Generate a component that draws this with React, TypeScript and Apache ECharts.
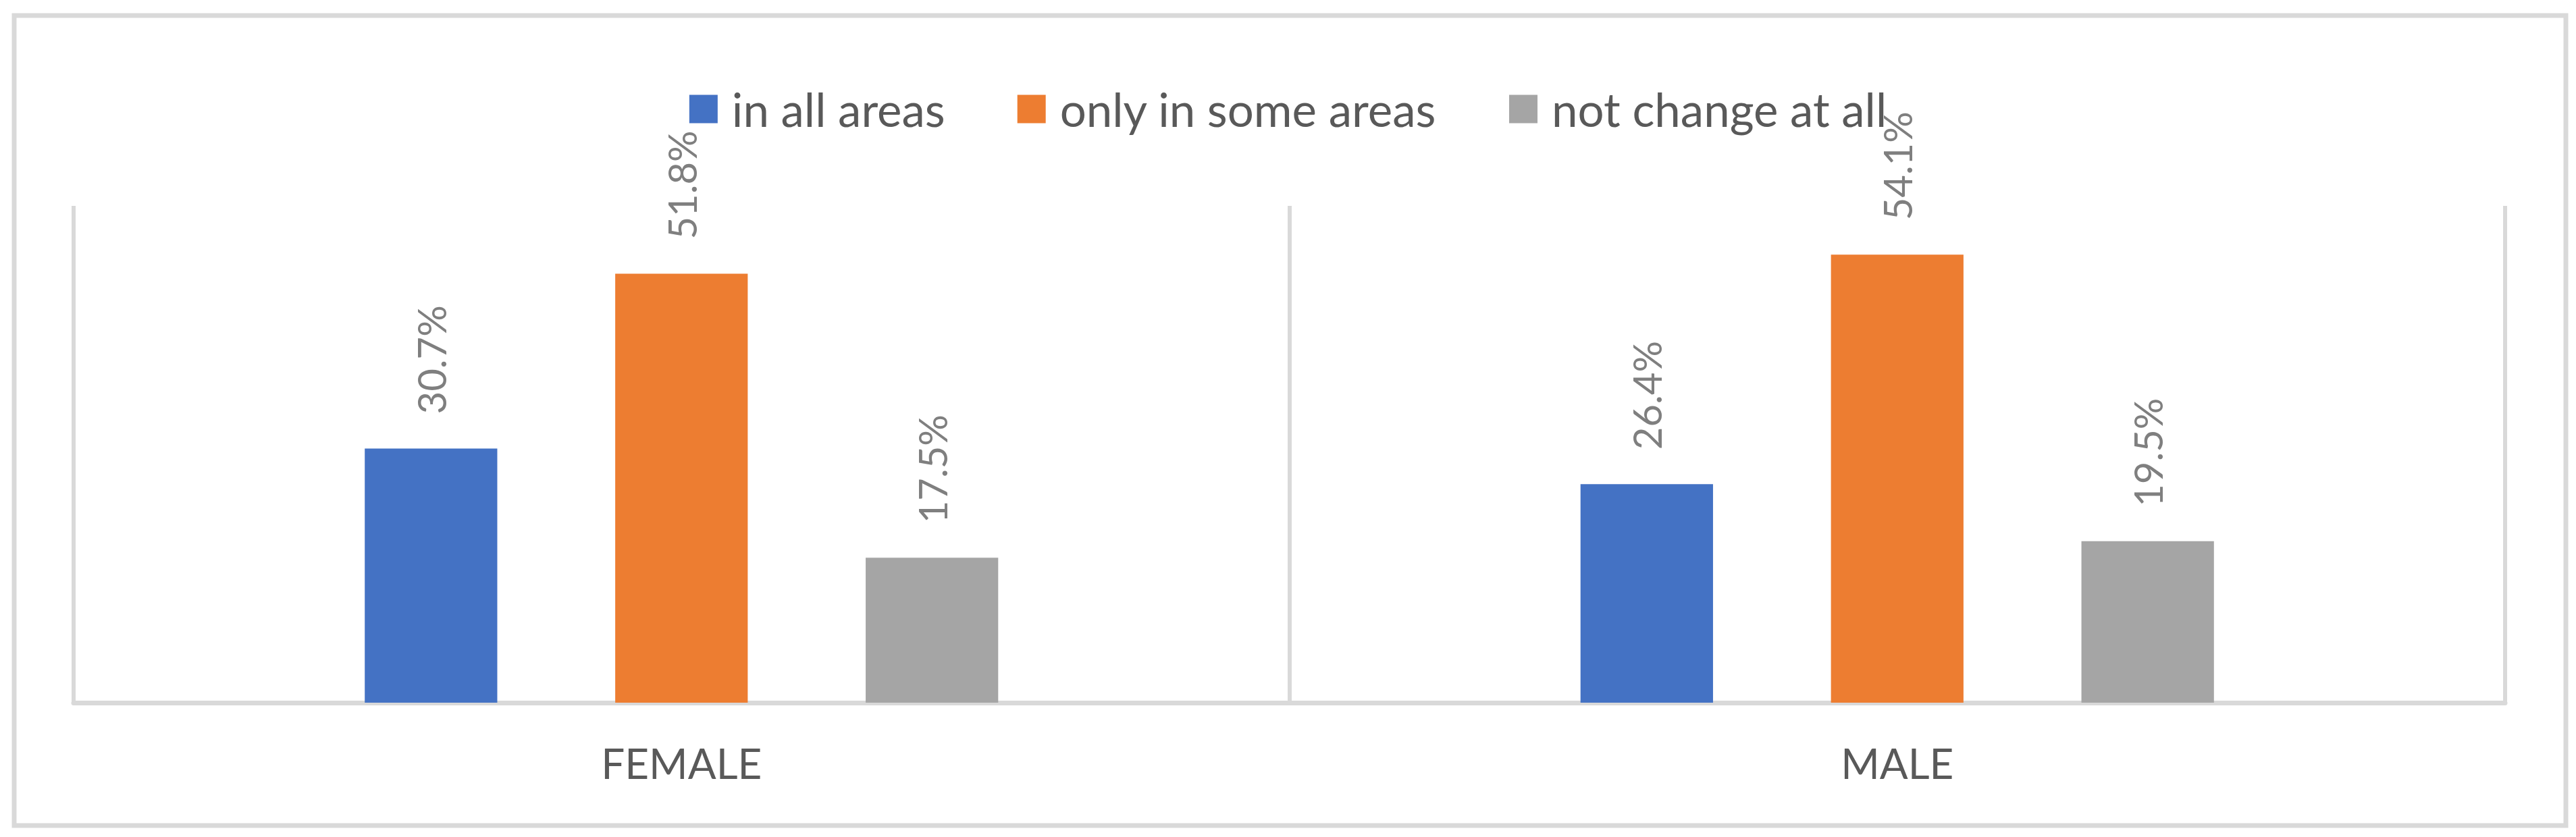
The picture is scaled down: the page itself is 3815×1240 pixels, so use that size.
import React, { useEffect, useRef } from "react";
import * as echarts from "echarts";

const categories = ["FEMALE", "MALE"];
const seriesNames = ["in all areas", "only in some areas", "not change at all"];
const inAllAreas = [30.7, 26.4];
const onlyInSomeAreas = [51.8, 54.1];
const notChangeAtAll = [17.5, 19.5];
const seriesColors = ["#4472C4", "#ED7D31", "#A5A5A5"];

const FONT = "Lato, 'Open Sans', sans-serif";

export default function App() {
  const ref = useRef<HTMLDivElement>(null);

  useEffect(() => {
    document.body.style.margin = "0";
    if (!ref.current) return;
    const chart = echarts.init(ref.current, null, { renderer: "svg" });
    const values = [inAllAreas, onlyInSomeAreas, notChangeAtAll];
    const option = {
      animation: false,
      backgroundColor: "#ffffff",
      textStyle: { fontFamily: FONT },
      graphic: [
        {
          type: "rect",
          shape: { x: 21, y: 23, width: 3779, height: 1200 },
          style: { fill: "none", stroke: "#D9D9D9", lineWidth: 7 },
          silent: true,
          z: -10,
        },
      ],
      legend: {
        top: 122,
        left: "center",
        itemWidth: 42,
        itemHeight: 42,
        itemGap: 107,
        icon: "rect",
        textStyle: {
          fontFamily: FONT,
          fontSize: 69,
          color: "#595959",
          lineHeight: 42,
          padding: [0, 0, 0, 16],
        },
        data: seriesNames,
      },
      grid: { left: 109, right: 105, top: 305, bottom: 199, containLabel: false },
      xAxis: {
        type: "category",
        data: categories,
        axisLine: { show: true, lineStyle: { color: "#D9D9D9", width: 7 } },
        axisTick: { show: false },
        splitLine: { show: true, lineStyle: { color: "#D9D9D9", width: 6 } },
        axisLabel: {
          fontFamily: FONT,
          fontSize: 62,
          color: "#595959",
          margin: 58,
          lineHeight: 62,
        },
      },
      yAxis: {
        type: "value",
        min: 0,
        max: 60,
        show: false,
        splitLine: { show: false },
      },
      series: seriesNames.map((name, i) => ({
        name,
        type: "bar",
        data: values[i],
        barWidth: "10.9%",
        barGap: "89%",
        itemStyle: { color: seriesColors[i] },
        label: {
          show: true,
          position: "top",
          rotate: 90,
          align: "left",
          verticalAlign: "middle",
          distance: 51,
          fontFamily: FONT,
          fontSize: 58,
          color: "#7F7F7F",
          formatter: (p: any) => `${Number(p.value).toFixed(1)}%`,
        },
      })),
    };
    chart.setOption(option as any);
    return () => chart.dispose();
  }, []);

  return <div ref={ref} style={{ width: 3815, height: 1240 }} />;
}
